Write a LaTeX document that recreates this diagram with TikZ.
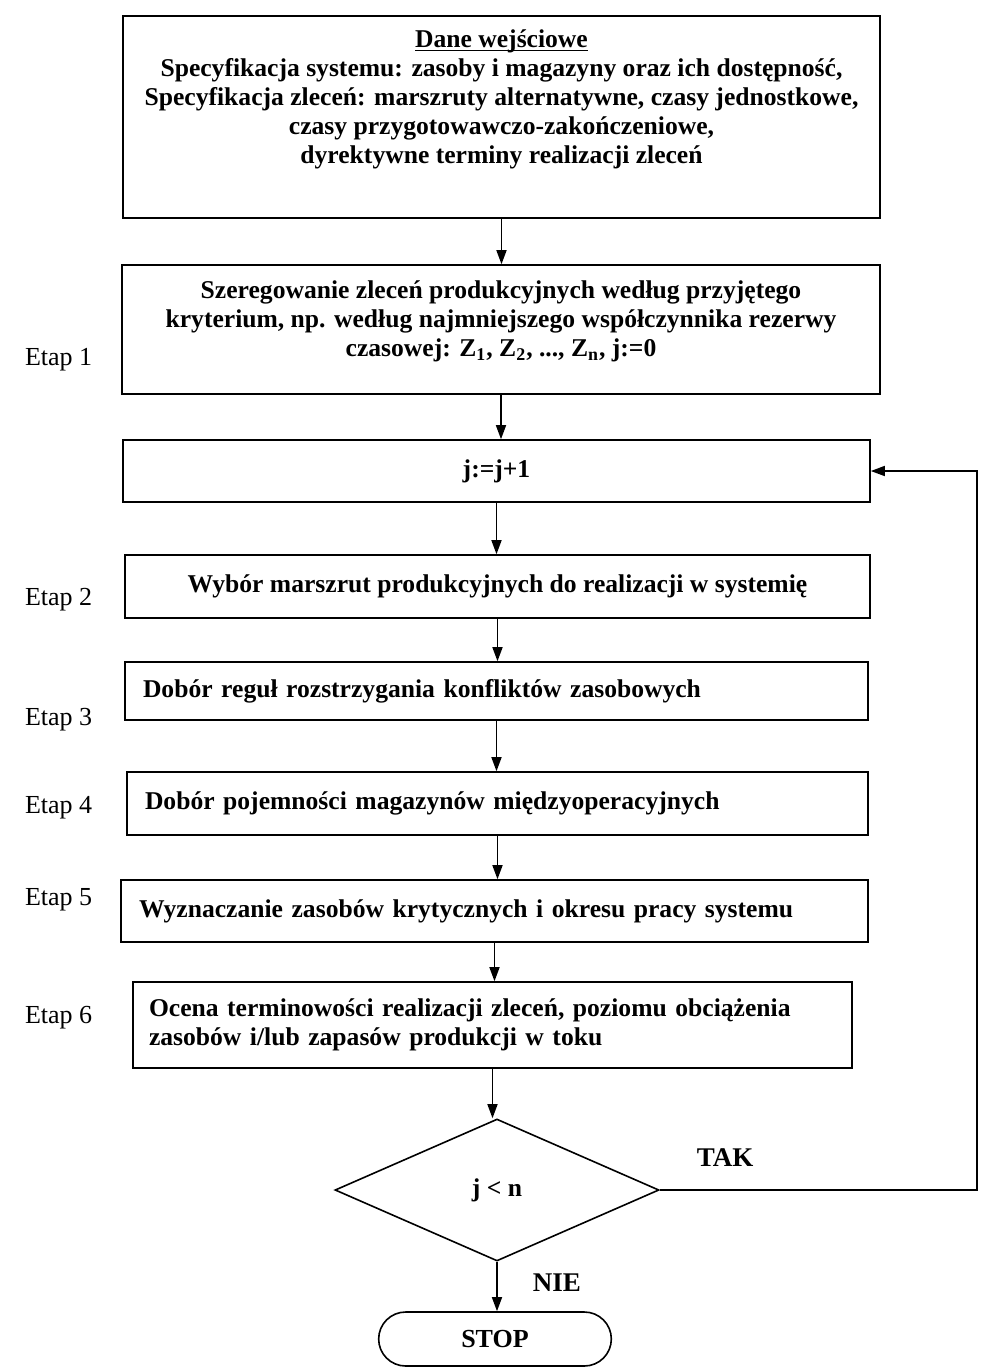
\documentclass[tikz,border=0pt]{standalone}
\usepackage{fontspec}
\setmainfont{Liberation Serif}
\usetikzlibrary{arrows.meta,shapes.geometric,shapes.misc}

\begin{document}
\begin{tikzpicture}[x=0.5pt,y=-0.5pt,
blok/.style={draw,rectangle,line width=0.8pt,inner xsep=9pt,inner ysep=0pt,
font=\fontsize{12.8}{14.5}\selectfont\bfseries},
romb/.style={draw,diamond,line width=0.8pt,minimum width=162pt,minimum height=71pt,
inner sep=0pt,font=\fontsize{12.8}{14.5}\selectfont\bfseries},
koniec/.style={draw,rounded rectangle,line width=0.8pt,minimum width=123pt,
minimum height=27pt,font=\fontsize{13}{15}\selectfont\bfseries},
etap/.style={anchor=west,font=\fontsize{13}{15}\selectfont},
napis/.style={font=\fontsize{13.5}{15}\selectfont\bfseries},
strzalka/.style={line width=0.8pt,-{Triangle[length=7pt,width=5pt]}}]
\useasboundingbox (0,0) rectangle (989,1367);

\node[blok,inner xsep=0pt,minimum width=378.5pt,minimum height=101pt]
(B1) at (501.5,117) {\parbox[c][101pt][t]{378pt}{\centering\vspace*{7pt}%
\underline{\raisebox{0pt}[\height][0pt]{Dane wejściowe}}\\
Specyfikacja systemu: zasoby i magazyny oraz ich dostępność,\\
Specyfikacja zleceń: marszruty alternatywne, czasy jednostkowe,\\
czasy przygotowawczo-zakończeniowe,\\
dyrektywne terminy realizacji zleceń}};
\node[blok,inner xsep=0pt,minimum width=379pt,minimum height=64.5pt]
(B2) at (501,329.5) {\parbox[c][64.5pt][t]{378pt}{\centering\vspace*{8pt}%
Szeregowanie zleceń produkcyjnych według przyjętego\\
kryterium, np. według najmniejszego współczynnika rezerwy\\
czasowej: Z\textsubscript{1}, Z\textsubscript{2}, ..., Z\textsubscript{n}, j:=0}};
\node[blok,minimum width=373.5pt,minimum height=31pt] (J) at (496.5,471) {j:=j+1};
\node[blok,minimum width=372.5pt,minimum height=31.5pt] (B3) at (497.5,586.5)
{Wybór marszrut produkcyjnych do realizacji w systemię};
\node[blok,text width=353.5pt,align=left,minimum height=29pt] (B4) at (496.5,691)
{Dobór reguł rozstrzygania konfliktów zasobowych};
\node[blok,text width=352.5pt,align=left,minimum height=31.5pt] (B5) at (497.5,803.5)
{Dobór pojemności magazynów międzyoperacyjnych};
\node[blok,text width=355.5pt,align=left,minimum height=31pt] (B6) at (494.5,911)
{Wyznaczanie zasobów krytycznych i okresu pracy systemu};
\node[blok,text width=343.5pt,inner xsep=8pt,align=left,minimum height=43pt] (B7) at (492.5,1025)
{Ocena terminowości realizacji zleceń, poziomu obciążenia\\
zasobów i/lub zapasów produkcji w toku};
\node[romb] (D) at (497,1190) {j < n};
\node[koniec] (S) at (495,1339) {STOP};

\node[etap] (E1) at (18,360) {Etap 1};
\node[etap] (E2) at (18,600) {Etap 2};
\node[etap] (E3) at (18,720) {Etap 3};
\node[etap] (E4) at (18,808) {Etap 4};
\node[etap] (E5) at (18,900) {Etap 5};
\node[etap] (E6) at (18,1018) {Etap 6};
\node[napis] (T) at (725,1158) {TAK};
\node[napis] (N) at (557,1283) {NIE};

\foreach \a/\b in {B1/B2,B2/J,J/B3,B3/B4,B4/B5,B5/B6,B6/B7,B7/D,D/S}
\draw[strzalka] (\a.south) -- (\a.south |- \b.north);
\coordinate (R) at (977,1190);
\draw[strzalka] (D.east) -- (R) |- (J.east);
\end{tikzpicture}
\end{document}
